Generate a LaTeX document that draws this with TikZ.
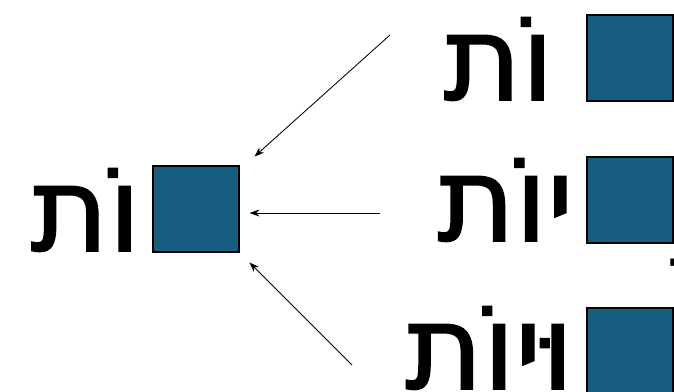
\documentclass[tikz,border=0pt]{standalone}
\usepackage{fontspec}
\newfontfamily\hebfont[Script=Hebrew, FakeBold=1.5]{DejaVu Sans}
\newfontfamily\hebplain[Script=Hebrew]{DejaVu Sans}
\TeXXeTstate=1
\usetikzlibrary{arrows.meta, positioning}

\definecolor{slotblue}{RGB}{24,94,128}

\tikzset{
  slot/.style={draw=black, line width=0.8pt, fill=slotblue, minimum size=2.15cm, inner sep=0pt},
  word/.style={font=\hebfont\fontsize{84}{90}\selectfont, inner sep=0pt, anchor=base east},
  vowel/.style={font=\hebplain\fontsize{71}{80}\selectfont, inner sep=0pt},
  link/.style={-{Stealth[length=7pt, width=5pt]}, line width=0.6pt, shorten >=0.35cm}
}

\begin{document}
\begin{tikzpicture}[x=0.025cm, y=-0.025cm]
    \useasboundingbox (0,0) rectangle (674,392);

    % target on the left
    \node[slot] (base) at (196,209) {};
    \node[word] (baseword) at (141,251) {\beginR וֹת\endR};

    % the three forms on the right
    \node[slot] (topslot) at (630,58) {};
    \node[word] (topword) at (554,100) {\beginR וֹת\endR};
    \node[slot] (midslot) at (630,200) {};
    \node[word] (midword) at (574,241) {\beginR יוֹת\endR};
    \node[vowel] (hiriq) at (658,258) {\beginR\char"00A0ִ\endR};
    \node[slot] (botslot) at (630,351) {};
    \node[word] (botword) at (574,389) {\beginR וּיוֹת\endR};

    \coordinate (topfrom) at (390,35);
    \coordinate (midfrom) at (380,213);
    \coordinate (botfrom) at (352,365);

    \draw[link, shorten >=0.5cm] (topfrom) -- (base);
    \draw[link, shorten >=0.25cm] (midfrom) -- (midfrom -| base.east);
    \draw[link] (botfrom) -- (base);
\end{tikzpicture}
\end{document}
